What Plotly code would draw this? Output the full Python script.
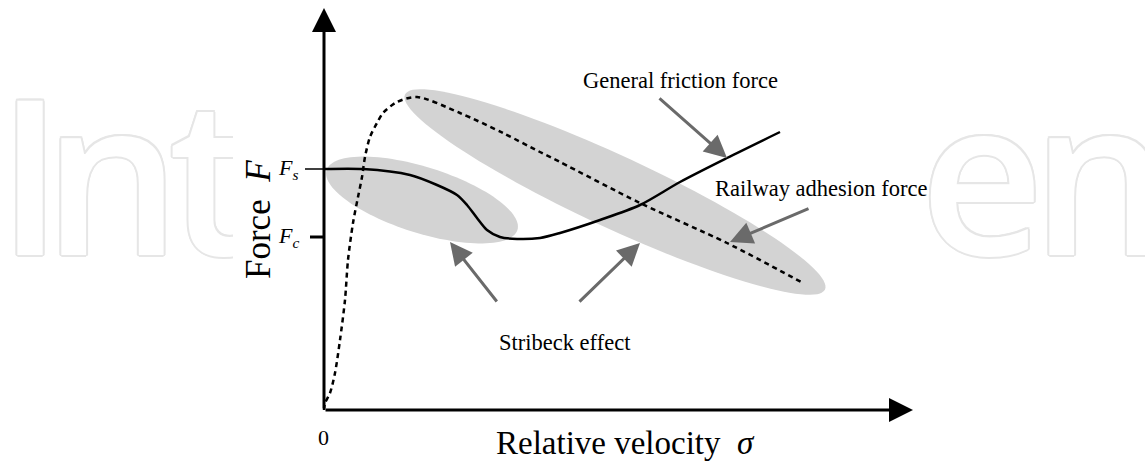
import numpy as np
import plotly.graph_objects as go

# force levels on the vertical axis
F_S = 2.41
F_C = 1.73

# general friction force (solid, Stribeck curve)
friction_v = [0.0, 0.39, 0.86, 1.13, 1.33, 1.43, 1.53, 1.63, 1.76, 1.93, 2.16,
              2.36, 2.76, 3.16, 3.56, 4.03, 4.56]
friction_f = [2.41, 2.41, 2.35, 2.25, 2.15, 2.05, 1.92, 1.80, 1.73, 1.71, 1.72,
              1.77, 1.90, 2.05, 2.28, 2.52, 2.78]

# railway adhesion force (dashed)
adhesion_v = [0.0, 0.01, 0.06, 0.11, 0.16, 0.21, 0.24, 0.29, 0.34, 0.38, 0.41,
              0.46, 0.53, 0.59, 0.73, 0.93, 1.36, 1.79, 2.16, 2.36, 3.16, 4.03, 4.79]
adhesion_f = [0.0, 0.07, 0.17, 0.37, 0.70, 1.10, 1.50, 1.87, 2.13, 2.33, 2.53,
              2.73, 2.87, 2.97, 3.08, 3.13, 2.97, 2.77, 2.58, 2.48, 2.07, 1.67, 1.27]

tick_labels = ["<i>F<sub>c</sub></i>", "<i>F<sub>s</sub></i>"]

# background watermark letters (left part clipped by the figure box)
wm_left = ["I", "n", "t"]
wm_left_x = [-2.94, -2.12, -1.13]
wm_right = ["e", "n"]
wm_right_x = [6.58, 7.76]
WM_Y = 2.09

SERIF = "Liberation Serif, Times New Roman, serif"
GRAY = "#6a6a6a"
SHADE = "#d3d3d3"


def ellipse_path(cx, cy, a, b, ang):
    t = np.linspace(0, 2 * np.pi, 121)
    th = np.radians(ang)
    x = cx + a * np.cos(t) * np.cos(th) - b * np.sin(t) * np.sin(th)
    y = cy + a * np.cos(t) * np.sin(th) + b * np.sin(t) * np.cos(th)
    return "M " + " L ".join(f"{xi:.4f},{yi:.4f}" for xi, yi in zip(x, y)) + " Z"


outline = ", ".join(f"{dx}px {dy}px 0 #e6e6e6" for dx, dy in
                    [(2, 0), (-2, 0), (0, 2), (0, -2), (1.5, 1.5), (-1.5, -1.5), (1.5, -1.5), (-1.5, 1.5)])
wm_font = dict(family="Open Sans", size=215, color="white", weight=600, shadow=outline)

fig = go.Figure()

fig.add_trace(go.Scatter(
    x=wm_left_x, y=[WM_Y] * len(wm_left), text=wm_left, mode="text",
    textposition="middle center", textfont=wm_font, xaxis="x2", yaxis="y",
    cliponaxis=True, hoverinfo="skip"
))
fig.add_trace(go.Scatter(
    x=wm_right_x, y=[WM_Y] * len(wm_right), text=wm_right, mode="text",
    textposition="middle center", textfont=wm_font, cliponaxis=True, hoverinfo="skip"
))

fig.add_trace(go.Scatter(
    x=adhesion_v, y=adhesion_f, mode="lines",
    line=dict(color="black", width=2.5, dash="5px,4px", shape="spline", smoothing=0.8),
    hoverinfo="skip"
))
fig.add_trace(go.Scatter(
    x=friction_v, y=friction_f, mode="lines",
    line=dict(color="black", width=2.5, shape="spline", smoothing=0.8),
    hoverinfo="skip"
))

# shaded regions
fig.add_shape(type="path", path=ellipse_path(0.98, 2.10, 1.00, 0.33, -17.4),
              fillcolor=SHADE, line=dict(width=0), layer="below")
fig.add_shape(type="path", path=ellipse_path(2.91, 2.18, 2.315, 0.36, -24.9),
              fillcolor=SHADE, line=dict(width=0), layer="below")

# ticks for Fs and Fc
fig.add_shape(type="line", x0=-0.19, x1=0, y0=F_S, y1=F_S, line=dict(color="black", width=1.5))
fig.add_shape(type="line", x0=-0.14, x1=0, y0=F_C, y1=F_C, line=dict(color="black", width=3))
for val, lab in zip([F_C, F_S], tick_labels):
    fig.add_annotation(x=-0.36, y=val, text=lab, showarrow=False,
                       font=dict(family=SERIF, size=22, color="black"))

# axes with arrow heads
for tip in [(5.89, 0.0), (0.0, 4.02)]:
    fig.add_annotation(x=tip[0], y=tip[1], ax=0, ay=0, axref="x", ayref="y",
                       text="", showarrow=True, arrowhead=2, arrowsize=1.6,
                       arrowwidth=3, arrowcolor="black", standoff=0)

# gray pointer arrows (tail -> tip)
pointers = [((3.34, 3.13), (4.03, 2.52)),
            ((4.86, 2.02), (4.06, 1.68)),
            ((1.74, 1.07), (1.26, 1.68)),
            ((2.54, 1.07), (3.16, 1.67))]
for tail, tip in pointers:
    fig.add_annotation(x=tip[0], y=tip[1], ax=tail[0], ay=tail[1], axref="x", ayref="y",
                       text="", showarrow=True, arrowhead=2, arrowsize=1.5,
                       arrowwidth=3, arrowcolor=GRAY, standoff=0)

labels = [("General friction force", 3.56, 3.30),
          ("Railway adhesion force", 4.97, 2.22),
          ("Stribeck effect", 2.41, 0.68)]
for txt, x, y in labels:
    fig.add_annotation(x=x, y=y, text=txt, showarrow=False,
                       font=dict(family=SERIF, size=22.5, color="black"))

fig.add_annotation(x=-0.01, y=-0.27, text="0", showarrow=False,
                   font=dict(family=SERIF, size=22, color="black"))
fig.add_annotation(x=3.01, y=-0.33, text="Relative velocity  <i>σ</i>", showarrow=False,
                   font=dict(family=SERIF, size=33, color="black"))
fig.add_annotation(x=-0.66, y=1.90, text="Force  <i>F</i>", showarrow=False, textangle=-90,
                   font=dict(family=SERIF, size=35, color="black"))

fig.update_layout(
    width=1145, height=462,
    margin=dict(l=0, r=0, t=0, b=0),
    paper_bgcolor="white", plot_bgcolor="white",
    showlegend=False,
    xaxis=dict(range=[-3.24, 8.21], visible=False, fixedrange=True),
    xaxis2=dict(range=[-3.24, -0.91], domain=[0, 233 / 1145], anchor="y",
                visible=False, fixedrange=True),
    yaxis=dict(range=[-0.52, 4.10], visible=False, fixedrange=True),
)

fig.write_html("out.html", config={"displayModeBar": False},
               post_script="document.body.style.margin='0';")
